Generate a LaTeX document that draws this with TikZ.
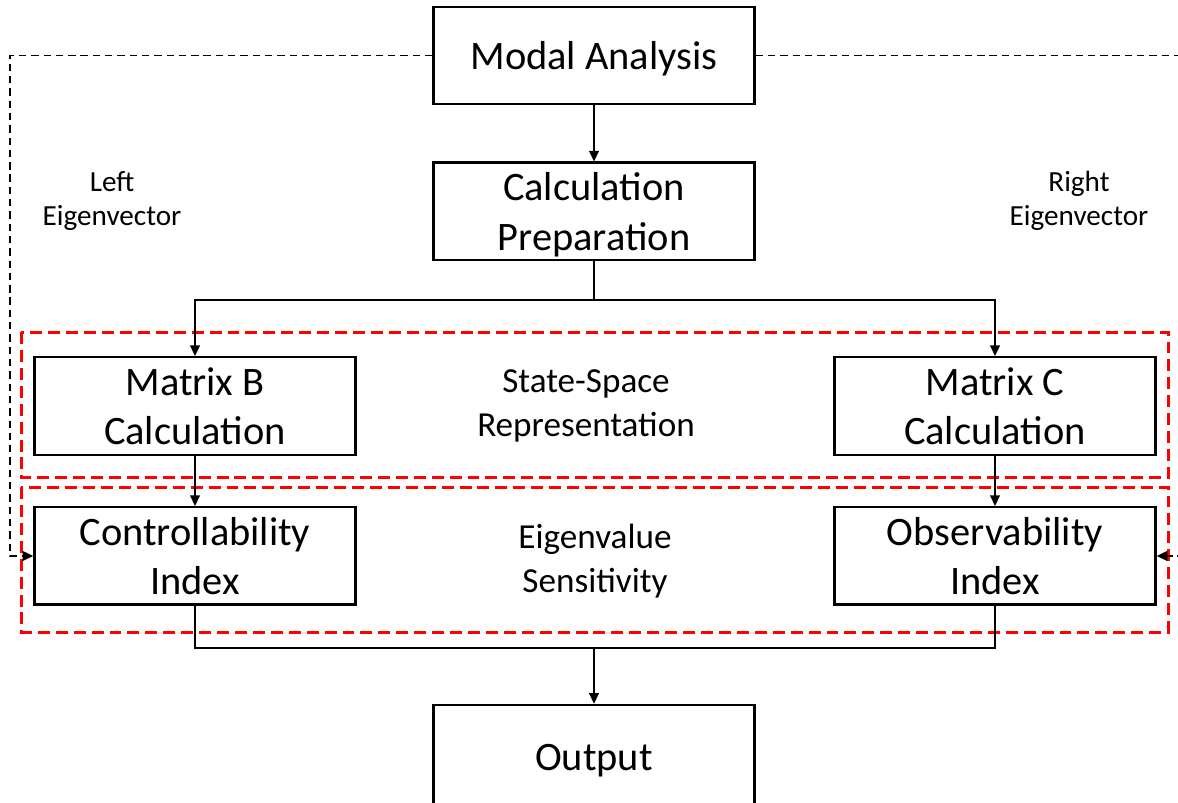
\documentclass[tikz,border=0pt]{standalone}
\usepackage{fontspec}
\setmainfont{Carlito}
\usetikzlibrary{positioning,arrows.meta}

\tikzset{
  block/.style={draw, line width=1.4pt, minimum width=6.42cm, minimum height=1.95cm,
    align=center, inner sep=0pt, text depth=0pt, font=\fontsize{23}{28}\selectfont},
  flow/.style={line width=0.85pt, -{Triangle[length=6pt,width=5.5pt]}},
  feed/.style={line width=1pt, dash pattern=on 4.2pt off 2.8pt, -{Triangle[length=6pt,width=5.5pt]}},
  stage/.style={draw=red, line width=1.7pt, dash pattern=on 6.8pt off 3.4pt},
  midlabel/.style={align=center, font=\fontsize{20}{25}\selectfont},
  sidelabel/.style={align=center, font=\fontsize{16.6}{19.5}\selectfont}
}

\begin{document}
\begin{tikzpicture}
  \useasboundingbox (0,0) rectangle (23.56,-16.04);

  % stage frames
  \draw[stage] (0.43,-6.64) rectangle (23.36,-9.55);
  \draw[stage] (0.43,-9.74) rectangle (23.36,-12.64);

  % blocks
  \node[block] (modal) at (11.88,-1.11) {Modal Analysis};
  \node[block, below=1.12cm of modal] (prep) {Calculation\\Preparation};
  \node[block] (matb) at (3.9,-8.12) {Matrix B\\Calculation};
  \node[block] (matc) at (19.9,-8.12) {Matrix C\\Calculation};
  \node[block, below=1.0cm of matb] (ctrl) {Controllability\\Index};
  \node[block, below=1.0cm of matc] (obs) {Observability\\Index};
  \node[block, minimum height=2.1cm] (out) at (11.88,-15.15) {Output};

  % labels
  \node[midlabel] (ssr) at (11.72,-8.12) {State-Space\\Representation};
  \node[midlabel] (es) at (11.9,-11.22) {Eigenvalue\\Sensitivity};
  \node[sidelabel] (lev) at (2.24,-4.02) {Left\\Eigenvector};
  \node[sidelabel] (rev) at (21.58,-4.02) {Right\\Eigenvector};

  % main flow
  \coordinate (split) at (11.88,-6.0);
  \coordinate (merge) at (11.88,-12.96);
  \draw[flow] (modal) -- (prep);
  \draw[line width=0.85pt] (prep.south) -- (split);
  \draw[flow] (split) -| (matb.north);
  \draw[flow] (split) -| (matc.north);
  \draw[flow] (matb) -- (ctrl);
  \draw[flow] (matc) -- (obs);
  \draw[line width=0.85pt] (ctrl.south) |- (merge) -| (obs.south);
  \draw[flow] (merge) -- (out.north);

  % eigenvector feeds
  \coordinate (lcorner) at (0.2,-1.11);
  \coordinate (rcorner) at (23.75,-1.11);
  \draw[feed] (modal.west) -- (lcorner) |- (ctrl.west);
  \draw[feed] (modal.east) -- (rcorner) |- (obs.east);
\end{tikzpicture}
\end{document}
